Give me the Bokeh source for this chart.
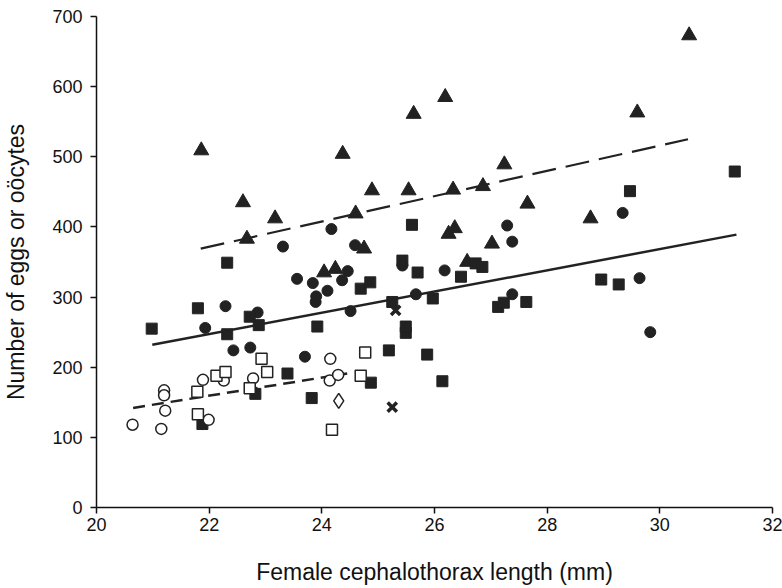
from bokeh.plotting import figure
from bokeh.embed import file_html
from bokeh.resources import INLINE
from bokeh.models import Range1d, FixedTicker

# ---- data ----
tri_x = [21.86, 22.6, 22.67, 23.17, 24.04, 24.24, 24.37, 24.6, 24.75, 24.89, 25.54, 25.63,
         26.19, 26.25, 26.36, 26.33, 26.58, 26.86, 27.02, 27.24, 27.65, 28.77, 29.6, 30.52]
tri_y = [509, 435, 383, 412, 335, 340, 504, 419, 369, 452, 452, 561,
         585, 390, 398, 453, 350, 458, 376, 489, 433, 412, 563, 673]

circ_x = [21.93, 22.29, 22.43, 22.73, 22.86, 23.31, 23.56, 23.7, 23.84, 23.89, 23.9, 24.1, 24.17,
          24.36, 24.46, 24.51, 24.59, 25.43, 25.67, 26.18, 27.29, 27.38, 27.38, 29.34, 29.64, 29.83]
circ_y = [256, 287, 224, 228, 278, 372, 326, 215, 320, 293, 301, 309, 397,
          324, 337, 280, 374, 345, 304, 338, 402, 379, 304, 420, 327, 250]

sq_x = [20.98, 21.8, 21.88, 22.32, 22.32, 22.72, 22.82, 22.88, 23.39, 23.82, 23.92, 24.69, 24.86,
        24.87, 25.19, 25.25, 25.43, 25.49, 25.49, 25.6, 25.7, 25.87, 25.97, 26.14, 26.47, 26.73,
        26.85, 27.13, 27.23, 27.63, 28.96, 29.27, 29.47, 31.33]
sq_y = [255, 284, 119, 349, 247, 272, 162, 260, 191, 156, 258, 312, 321,
        178, 224, 293, 352, 249, 258, 403, 335, 218, 298, 180, 329, 348,
        343, 286, 292, 293, 325, 318, 451, 479]

ocirc_x = [20.64, 21.15, 21.2, 21.2, 21.22, 21.89, 21.99, 22.26, 22.78, 24.15, 24.14, 24.29]
ocirc_y = [118, 112, 167, 160, 138, 182, 125, 181, 184, 212, 181, 189]

osq_x = [21.79, 21.8, 22.13, 22.29, 22.72, 22.93, 23.03, 24.18, 24.69, 24.77]
osq_y = [165, 133, 188, 193, 170, 212, 193, 111, 188, 221]

dia_x = [24.3]
dia_y = [152]

cross_x = [25.25, 25.31]
cross_y = [143, 281]

# regression lines (end points)
fit_tri_x = [21.85, 30.5]
fit_tri_y = [369, 525]
fit_main_x = [20.99, 31.36]
fit_main_y = [232, 389]
fit_open_x = [20.65, 24.45]
fit_open_y = [142, 191]

x_ticks = [20, 22, 24, 26, 28, 30, 32]
y_ticks = [0, 100, 200, 300, 400, 500, 600, 700]

INK = "#222222"
FONT = "Liberation Sans"

p = figure(width=782, height=588, output_backend="svg", toolbar_location=None,
           x_range=Range1d(20, 32), y_range=Range1d(0, 700),
           min_border_left=96, min_border_right=10, min_border_top=16, min_border_bottom=81)
p.outline_line_color = None
p.xgrid.visible = False
p.ygrid.visible = False
p.background_fill_color = "white"
p.border_fill_color = "white"

# lines
p.line(fit_tri_x, fit_tri_y, line_color=INK, line_width=2.2, line_dash="24 10")
p.line(fit_main_x, fit_main_y, line_color=INK, line_width=2.5)
p.line(fit_open_x, fit_open_y, line_color=INK, line_width=2.5, line_dash="12 7")

# markers
p.scatter(tri_x, tri_y, marker="triangle", size=15, fill_color=INK, line_color=INK)
p.scatter(circ_x, circ_y, marker="circle", size=11, fill_color=INK, line_color=INK)
p.scatter(sq_x, sq_y, marker="square", size=11, fill_color=INK, line_color=INK)
p.scatter(ocirc_x, ocirc_y, marker="circle", size=11, fill_color="white", line_color=INK, line_width=1.5)
p.scatter(osq_x, osq_y, marker="square", size=11, fill_color="white", line_color=INK, line_width=1.5)
p.scatter(dia_x, dia_y, marker="diamond", size=15, fill_color="white", line_color=INK, line_width=1.5)
p.scatter(cross_x, cross_y, marker="x", size=13, line_color=INK, line_width=3.5)

for ax in (p.xaxis[0], p.yaxis[0]):
    ax.axis_line_color = "#111111"
    ax.axis_line_width = 1.5
    ax.major_tick_line_color = "#111111"
    ax.major_tick_line_width = 1.5
    ax.major_tick_out = 6
    ax.major_tick_in = 0
    ax.minor_tick_line_color = None
    ax.major_label_text_font = FONT
    ax.major_label_text_font_size = "18px"
    ax.major_label_text_color = "#111111"
    ax.axis_label_text_font = FONT
    ax.axis_label_text_font_style = "normal"
    ax.axis_label_text_color = "#111111"

p.xaxis.ticker = FixedTicker(ticks=x_ticks)
p.yaxis.ticker = FixedTicker(ticks=y_ticks)
p.xaxis.axis_label = "Female cephalothorax length (mm)"
p.yaxis.axis_label = "Number of eggs or oöcytes"
p.xaxis.axis_label_text_font_size = "23px"
p.yaxis.axis_label_text_font_size = "23px"
p.xaxis.major_label_standoff = 4
p.yaxis.major_label_standoff = 8
p.xaxis.axis_label_standoff = 25
p.yaxis.axis_label_standoff = 20

open("out.html", "w").write(file_html(p, INLINE))
